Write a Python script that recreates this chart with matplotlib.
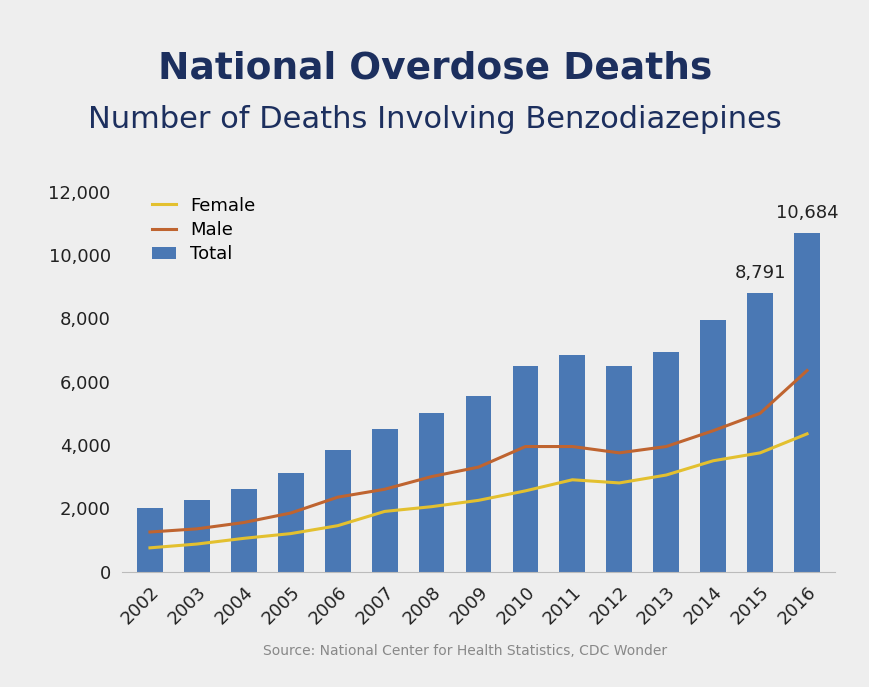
import matplotlib.pyplot as plt
import numpy as np

years = ['2002', '2003', '2004', '2005', '2006', '2007', '2008', '2009',
         '2010', '2011', '2012', '2013', '2014', '2015', '2016']
total = [2000, 2250, 2600, 3100, 3850, 4500, 5000, 5550, 6500, 6850, 6500,
         6950, 7950, 8791, 10684]
female = [750, 870, 1050, 1200, 1450, 1900, 2050, 2250, 2550, 2900, 2800,
          3050, 3500, 3750, 4350]
male = [1250, 1350, 1550, 1850, 2350, 2600, 3000, 3300, 3950, 3950, 3750,
        3950, 4450, 5000, 6350]

bg = '#eeeeee'
fig = plt.figure(figsize=(8.7, 6.87), dpi=100, facecolor=bg)
ax = fig.add_axes([0.14, 0.168, 0.82, 0.553], facecolor=bg)

x = np.arange(len(years))
ax.bar(x, total, width=0.55, color='#4a78b4', label='Total', zorder=2)
ax.plot(x, female, color='#e3c02f', lw=2.2, label='Female', zorder=3)
ax.plot(x, male, color='#bf6430', lw=2.2, label='Male', zorder=3)

for i in (13, 14):
    ax.text(x[i], total[i] + 350, f'{total[i]:,}', ha='center', va='bottom',
            fontsize=13, color='#222222')

ax.set_xlim(-0.6, len(years) - 0.4)
ax.set_ylim(0, 12000)
ax.set_yticks(range(0, 12001, 2000))
ax.set_yticklabels([f'{v:,}' for v in range(0, 12001, 2000)], fontsize=13,
                   color='#222222')
ax.set_xticks(x)
ax.set_xticklabels(years, rotation=45, ha='right', rotation_mode='anchor',
                   fontsize=13, color='#222222')
ax.tick_params(length=0, pad=8)
for s in ('top', 'right', 'left'):
    ax.spines[s].set_visible(False)
ax.spines['bottom'].set_color('#bbbbbb')

ax.legend(loc='upper left', bbox_to_anchor=(0.02, 1.03), frameon=False,
          fontsize=13, handlelength=1.3, labelspacing=0.35)

fig.text(0.5, 0.90, 'National Overdose Deaths', ha='center', va='center',
         fontsize=27, fontweight='bold', color='#1c2f5e')
fig.text(0.5, 0.826, 'Number of Deaths Involving Benzodiazepines',
         ha='center', va='center', fontsize=22, color='#1c2f5e')
fig.text(0.535, 0.053, 'Source: National Center for Health Statistics, CDC Wonder',
         ha='center', va='center', fontsize=10, color='#888888')

fig.savefig('out.png', dpi=100, facecolor=bg)
